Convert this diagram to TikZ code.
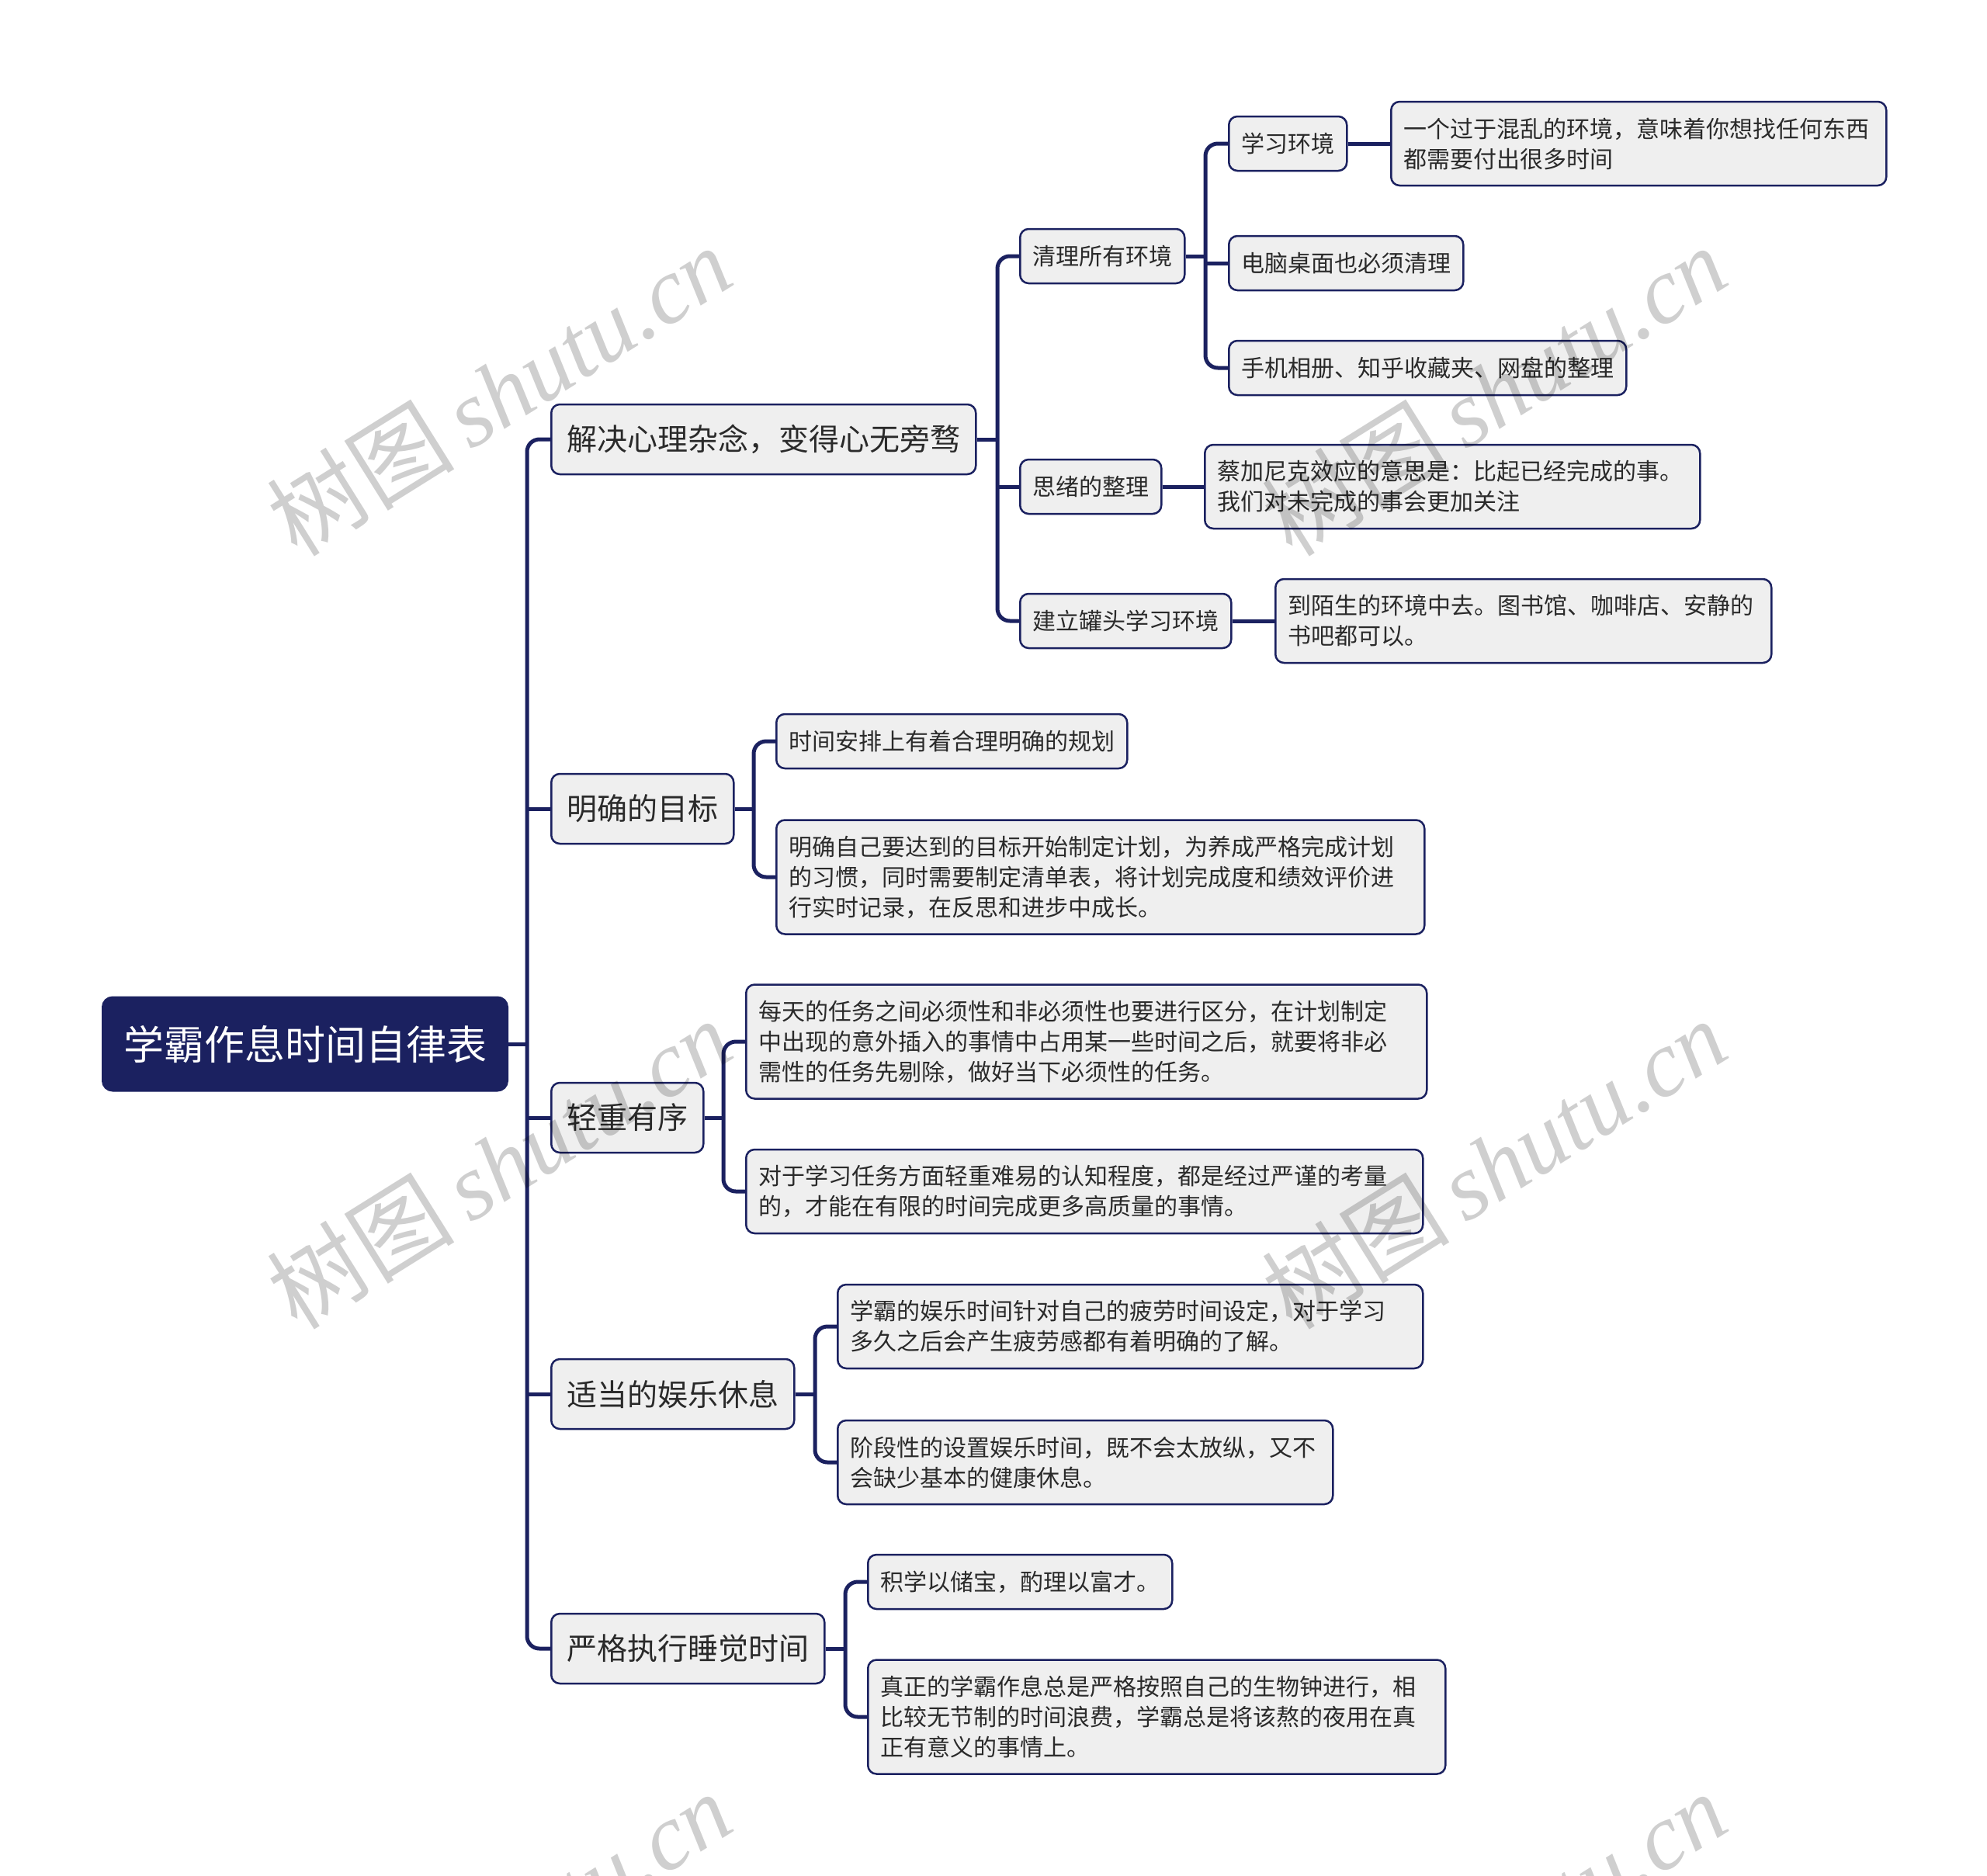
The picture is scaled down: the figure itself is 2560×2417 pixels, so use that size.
\documentclass[tikz,border=0pt]{standalone}
\usepackage{fontspec}
\setmainfont{Noto Sans CJK SC}
\newfontfamily\wmcjk{Noto Sans CJK SC}
\newfontfamily\wmlat{Liberation Serif}
\definecolor{navy}{HTML}{1B2160}
\definecolor{nodefill}{HTML}{EFEFEF}
\definecolor{txt}{HTML}{2A2A2A}
\begin{document}
\begin{tikzpicture}[x=1pt,y=-1pt,
  box/.style={draw=navy, line width=2.5pt, fill=nodefill, rounded corners=11pt, anchor=west, text=txt, inner ysep=0pt},
  rootbox/.style={fill=navy, draw=navy, line width=2pt, rounded corners=13pt, text=white, font=\fontsize{52}{60}\selectfont, inner xsep=27pt, inner ysep=0pt, minimum height=121pt, anchor=west},
  lone/.style={box, font=\fontsize{39}{48}\selectfont, inner xsep=20pt, minimum height=90pt},
  ltwo/.style={box, font=\fontsize{30}{39}\selectfont, inner xsep=16pt, minimum height=70pt},
  leaf/.style={box, font=\fontsize{30}{39}\selectfont, inner xsep=16pt, align=left, text width=#1},
  hh/.style={minimum height=108pt},
  hhh/.style={minimum height=147pt},
  link/.style={draw=navy, line width=5pt, rounded corners=16pt},
  wm/.style={text=black, text opacity=0.19, rotate=32, inner sep=0pt},
]
\useasboundingbox (0,0) rectangle (2560,2417);
\clip (0,0) rectangle (2560,2417);
\fill[white] (0,0) rectangle (2560,2417);

% bar positions
\coordinate (t0) at (679,0);
\coordinate (ta) at (1285,0);
\coordinate (ta1) at (1553,0);
\coordinate (tb) at (971,0);
\coordinate (tc) at (932,0);
\coordinate (td) at (1050,0);
\coordinate (te) at (1089,0);

% root
\node[rootbox] (root) at (131,1345) {学霸作息时间自律表};

% level 1
\node[lone] (a) at (709,566) {解决心理杂念，变得心无旁骛};
\node[lone] (b) at (709,1042) {明确的目标};
\node[lone] (c) at (709,1440) {轻重有序};
\node[lone] (d) at (709,1796) {适当的娱乐休息};
\node[lone] (e) at (709,2124) {严格执行睡觉时间};

% branch a
\node[ltwo] (a1) at (1313,330) {清理所有环境};
\node[ltwo] (a2) at (1313,627) {思绪的整理};
\node[ltwo] (a3) at (1313,800) {建立罐头学习环境};

\node[ltwo] (a11) at (1582,185) {学习环境};
\node[ltwo] (a12) at (1582,339) {电脑桌面也必须清理};
\node[ltwo] (a13) at (1582,474) {手机相册、知乎收藏夹、网盘的整理};

\node[leaf=606pt, hh] (a111) at (1791,185) {一个过于混乱的环境，意味着你想找任何东西\\都需要付出很多时间};
\node[leaf=606pt, hh] (a21) at (1551,627) {蔡加尼克效应的意思是：比起已经完成的事。\\我们对未完成的事会更加关注};
\node[leaf=607pt, hh] (a31) at (1642,800) {到陌生的环境中去。图书馆、咖啡店、安静的\\书吧都可以。};

% branch b
\node[ltwo] (b1) at (999,955) {时间安排上有着合理明确的规划};
\node[leaf=803pt, hhh] (b2) at (999,1130) {明确自己要达到的目标开始制定计划，为养成严格完成计划\\的习惯，同时需要制定清单表，将计划完成度和绩效评价进\\行实时记录，在反思和进步中成长。};

% branch c
\node[leaf=845pt, hhh] (c1) at (960,1342) {每天的任务之间必须性和非必须性也要进行区分，在计划制定\\中出现的意外插入的事情中占用某一些时间之后，就要将非必\\需性的任务先剔除，做好当下必须性的任务。};
\node[leaf=840pt, hh] (c2) at (960,1535) {对于学习任务方面轻重难易的认知程度，都是经过严谨的考量\\的，才能在有限的时间完成更多高质量的事情。};

% branch d
\node[leaf=722pt, hh] (d1) at (1078,1709) {学霸的娱乐时间针对自己的疲劳时间设定，对于学习\\多久之后会产生疲劳感都有着明确的了解。};
\node[leaf=606pt, hh] (d2) at (1078,1884) {阶段性的设置娱乐时间，既不会太放纵，又不\\会缺少基本的健康休息。};

% branch e
\node[ltwo] (e1) at (1117,2038) {积学以储宝，酌理以富才。};
\node[leaf=712pt, hhh] (e2) at (1117,2212) {真正的学霸作息总是严格按照自己的生物钟进行，相\\比较无节制的时间浪费，学霸总是将该熬的夜用在真\\正有意义的事情上。};

% connectors: root
\draw[link] (root.east) -- (root.east -| t0);
\draw[link] (a.west) -- (a.west -| t0) -- (e.west -| t0) -- (e.west);
\draw[link] (b.west -| t0) -- (b.west);
\draw[link] (c.west -| t0) -- (c.west);
\draw[link] (d.west -| t0) -- (d.west);

% branch a
\draw[link] (a.east) -- (a.east -| ta);
\draw[link] (a1.west) -- (a1.west -| ta) -- (a3.west -| ta) -- (a3.west);
\draw[link] (a2.west -| ta) -- (a2.west);
\draw[link] (a1.east) -- (a1.east -| ta1);
\draw[link] (a11.west) -- (a11.west -| ta1) -- (a13.west -| ta1) -- (a13.west);
\draw[link] (a12.west -| ta1) -- (a12.west);
\draw[link] (a11.east) -- (a111.west);
\draw[link] (a2.east) -- (a21.west);
\draw[link] (a3.east) -- (a31.west);

% branch b
\draw[link] (b.east) -- (b.east -| tb);
\draw[link] (b1.west) -- (b1.west -| tb) -- (b2.west -| tb) -- (b2.west);

% branch c
\draw[link] (c.east) -- (c.east -| tc);
\draw[link] (c1.west) -- (c1.west -| tc) -- (c2.west -| tc) -- (c2.west);

% branch d
\draw[link] (d.east) -- (d.east -| td);
\draw[link] (d1.west) -- (d1.west -| td) -- (d2.west -| td) -- (d2.west);

% branch e
\draw[link] (e.east) -- (e.east -| te);
\draw[link] (e1.west) -- (e1.west -| te) -- (e2.west -| te) -- (e2.west);

% watermarks
\foreach \wx/\wy [count=\i] in {643/503, 1925/503, 643/1499, 1925/1499, 643/2495, 1925/2495}{
  \node[wm] (wm\i) at (\wx,\wy) {\fontsize{121}{126}\selectfont\wmcjk 树图\,\wmlat\itshape shutu.cn};
}
\end{tikzpicture}
\end{document}
